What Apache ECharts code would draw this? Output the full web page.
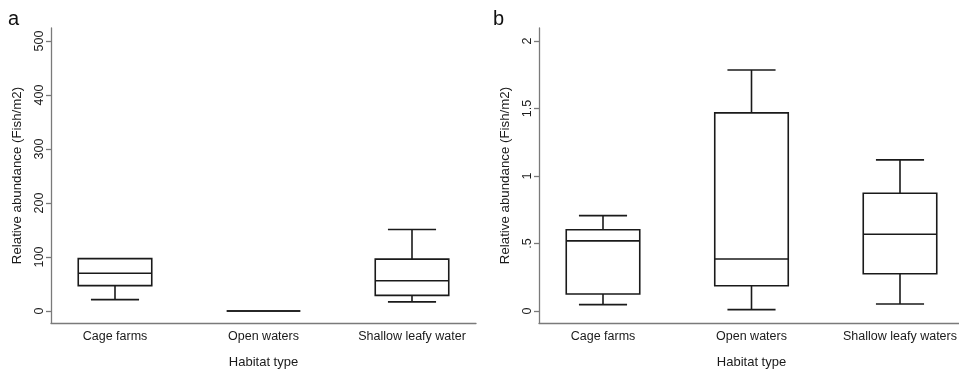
<!DOCTYPE html>
<html>
<head>
<meta charset="utf-8">
<script src="https://cdn.jsdelivr.net/npm/echarts@6/dist/echarts.min.js"></script>
<style>
html,body{margin:0;padding:0;background:#fff;}
#c{width:959px;height:371px;}
</style>
</head>
<body>
<div id="c"></div>
<script>
// Panel a categories and box statistics [lowerWhisker, Q1, median, Q3, upperWhisker]
var categoriesA = ['Cage farms', 'Open waters', 'Shallow leafy water'];
var boxesA = [
  [21, 47, 70, 97, 97],
  [0, 0, 0, 0, 0],
  [17, 29, 56, 96, 151]
];
var ticksA = [0, 100, 200, 300, 400, 500];

// Panel b
var categoriesB = ['Cage farms', 'Open waters', 'Shallow leafy waters'];
var boxesB = [
  [0.047, 0.126, 0.519, 0.602, 0.706],
  [0.01, 0.187, 0.385, 1.467, 1.785],
  [0.052, 0.276, 0.568, 0.872, 1.119]
];
var ticksB = [0, 0.5, 1, 1.5, 2];
var tickLabelsB = ['0', '.5', '1', '1.5', '2'];

var FONT = 'Liberation Sans, Arial, sans-serif';
var TXT = '#1a1a1a';
var AXC = '#7a7a7a';
var LINE = '#1a1a1a';

function renderBox(params, api) {
  var idx = api.value(0);
  var lo = api.coord([idx, api.value(1)]);
  var q1 = api.coord([idx, api.value(2)]);
  var md = api.coord([idx, api.value(3)]);
  var q3 = api.coord([idx, api.value(4)]);
  var hi = api.coord([idx, api.value(5)]);
  var band = api.size([1, 0])[0];
  var bw = band * 0.495;
  var cw = band * 0.162;
  var x = lo[0];
  var st = {stroke: LINE, lineWidth: 1.6, fill: null};
  var children = [
    {type: 'rect', shape: {x: x - bw / 2, y: q3[1], width: bw, height: q1[1] - q3[1]}, style: {stroke: LINE, lineWidth: 1.6, fill: 'none'}},
    {type: 'line', shape: {x1: x - bw / 2, y1: md[1], x2: x + bw / 2, y2: md[1]}, style: st},
    {type: 'line', shape: {x1: x, y1: q3[1], x2: x, y2: hi[1]}, style: st},
    {type: 'line', shape: {x1: x, y1: q1[1], x2: x, y2: lo[1]}, style: st}
  ];
  if (hi[1] < q3[1] - 0.5) children.push({type: 'line', shape: {x1: x - cw, y1: hi[1], x2: x + cw, y2: hi[1]}, style: st});
  if (lo[1] > q1[1] + 0.5) children.push({type: 'line', shape: {x1: x - cw, y1: lo[1], x2: x + cw, y2: lo[1]}, style: st});
  return {type: 'group', children: children};
}

function toData(boxes) {
  return boxes.map(function (b, i) { return [i].concat(b); });
}

var axisLabelStyle = {color: TXT, fontFamily: FONT, fontSize: 12.5};
var gridBase = {top: 28, bottom: 48, outerBoundsMode: 'none', containLabel: false};

var chart = echarts.init(document.getElementById('c'), null, {renderer: 'canvas'});
chart.setOption({
  animation: false,
  backgroundColor: '#fff',
  textStyle: {fontFamily: FONT},
  title: [
    {text: 'a', left: 3, top: 4, textStyle: {fontFamily: FONT, fontSize: 20, fontWeight: 'normal', color: '#111'}},
    {text: 'b', left: 488, top: 4, textStyle: {fontFamily: FONT, fontSize: 20, fontWeight: 'normal', color: '#111'}}
  ],
  grid: [
    Object.assign({left: 40.75, width: 445.5}, gridBase),
    Object.assign({left: 528.75, width: 445.5}, gridBase),
    Object.assign({left: 51, right: 483}, gridBase),
    Object.assign({left: 539, right: 0}, gridBase)
  ],
  xAxis: [
    {type: 'category', gridIndex: 0, data: categoriesA, boundaryGap: true,
     axisLine: {show: false}, axisTick: {show: false}, splitLine: {show: false},
     axisLabel: Object.assign({margin: 7, interval: 0}, axisLabelStyle),
     name: 'Habitat type', nameLocation: 'middle', nameGap: 33,
     nameTextStyle: {color: TXT, fontFamily: FONT, fontSize: 13}},
    {type: 'category', gridIndex: 1, data: categoriesB, boundaryGap: true,
     axisLine: {show: false}, axisTick: {show: false}, splitLine: {show: false},
     axisLabel: Object.assign({margin: 7, interval: 0}, axisLabelStyle),
     name: 'Habitat type', nameLocation: 'middle', nameGap: 33,
     nameTextStyle: {color: TXT, fontFamily: FONT, fontSize: 13}},
    {type: 'value', gridIndex: 2, min: 0, max: 1, axisLine: {show: true, onZero: false, lineStyle: {color: AXC, width: 1.3}},
     axisTick: {show: false}, axisLabel: {show: false}, splitLine: {show: false}},
    {type: 'value', gridIndex: 3, min: 0, max: 1, axisLine: {show: true, onZero: false, lineStyle: {color: AXC, width: 1.3}},
     axisTick: {show: false}, axisLabel: {show: false}, splitLine: {show: false}}
  ],
  yAxis: [
    {type: 'value', gridIndex: 0, min: -22.2, max: 524, offset: -10.25,
     axisLine: {show: true, lineStyle: {color: AXC, width: 1.3}},
     axisTick: {show: true, length: 5, customValues: ticksA, lineStyle: {color: AXC, width: 1.3}},
     axisLabel: Object.assign({rotate: 90, margin: 5, customValues: ticksA}, axisLabelStyle),
     splitLine: {show: false},
     name: 'Relative abundance (Fish/m2)', nameLocation: 'middle', nameGap: 27,
     nameTextStyle: {color: TXT, fontFamily: FONT, fontSize: 13.3}},
    {type: 'value', gridIndex: 1, min: -0.089, max: 2.096, offset: -10.25,
     axisLine: {show: true, lineStyle: {color: AXC, width: 1.3}},
     axisTick: {show: true, length: 5, customValues: ticksB, lineStyle: {color: AXC, width: 1.3}},
     axisLabel: Object.assign({rotate: 90, margin: 5, customValues: ticksB,
       formatter: function (v) { var i = ticksB.indexOf(v); return i >= 0 ? tickLabelsB[i] : ''; }}, axisLabelStyle),
     splitLine: {show: false},
     name: 'Relative abundance (Fish/m2)', nameLocation: 'middle', nameGap: 27,
     nameTextStyle: {color: TXT, fontFamily: FONT, fontSize: 13.3}},
    {type: 'value', gridIndex: 2, show: false},
    {type: 'value', gridIndex: 3, show: false}
  ],
  series: [
    {type: 'custom', xAxisIndex: 0, yAxisIndex: 0, data: toData(boxesA), renderItem: renderBox,
     encode: {x: 0, y: [1, 2, 3, 4, 5]}, clip: false, silent: true},
    {type: 'custom', xAxisIndex: 1, yAxisIndex: 1, data: toData(boxesB), renderItem: renderBox,
     encode: {x: 0, y: [1, 2, 3, 4, 5]}, clip: false, silent: true}
  ]
});
</script>
</body>
</html>
